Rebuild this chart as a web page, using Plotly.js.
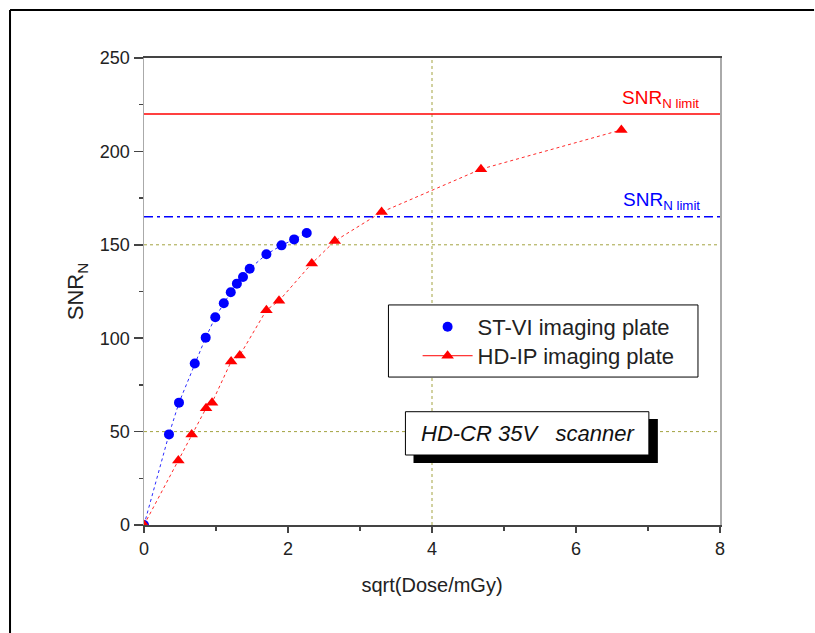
<!DOCTYPE html>
<html>
<head>
<meta charset="utf-8">
<script src="https://cdn.plot.ly/plotly-3.0.1.min.js"></script>
<style>html,body{margin:0;padding:0;background:#fff;overflow:hidden;}#chart{width:815px;height:633px;}</style>
</head>
<body>
<div id="chart"></div>
<script>
// Data
var stviX = [0, 0.347, 0.486, 0.705, 0.857, 0.99, 1.108, 1.205, 1.29, 1.375, 1.468, 1.70, 1.91, 2.085, 2.26];
var stviY = [0, 48.5, 65.5, 86.5, 100.3, 111.2, 118.7, 124.6, 129.2, 132.8, 137.2, 144.9, 149.7, 152.9, 156.3];
var hdipX = [0, 0.477, 0.662, 0.862, 0.945, 1.21, 1.33, 1.70, 1.875, 2.33, 2.65, 3.30, 4.68, 6.63];
var hdipY = [0, 34.5, 48.5, 62.5, 65.5, 87.5, 90.8, 115, 120, 140, 152, 167.5, 190.5, 211.5];
var limitHDIP = 220;
var limitSTVI = 165;
var seriesNames = ["ST-VI imaging plate", "HD-IP imaging plate"];
var xTitle = "sqrt(Dose/mGy)";
var yTitle = "SNR<sub>N</sub>";
var boxLabel = "HD-CR 35V\u00a0\u00a0\u00a0scanner";
var limitLabel = "SNR<sub>N limit</sub>";

var FONT = "Liberation Sans, Arial, sans-serif";

var traces = [
  {x: stviX, y: stviY, mode: "lines+markers", showlegend: false, cliponaxis: true,
   line: {color: "#2a2aff", width: 1, dash: "dot"},
   marker: {symbol: "circle", size: 10, color: "#0000ff"}},
  {x: hdipX, y: hdipY, mode: "lines+markers", showlegend: false, cliponaxis: true,
   line: {color: "#ff2a2a", width: 1, dash: "dot"},
   marker: {symbol: "triangle-up", size: 11, color: "#ff0000"}},
  {x: [null], y: [null], mode: "markers", name: seriesNames[0], legend: "legend",
   marker: {symbol: "circle", size: 10, color: "#0000ff"}},
  {x: [null], y: [null], mode: "lines+markers", name: seriesNames[1], legend: "legend2",
   line: {color: "#ff0000", width: 1},
   marker: {symbol: "triangle-up", size: 11, color: "#ff0000"}}
];

var grid = "#a3a341";
var shapes = [
  // outer frame: left and top edges (right and bottom edges lie outside the picture)
  {type: "line", xref: "paper", yref: "paper", x0: -0.2326, x1: -0.2326, y0: -0.3, y1: 1.1028,
   line: {color: "#000", width: 2}},
  {type: "line", xref: "paper", yref: "paper", x0: -0.2326, x1: 1.1633, y0: 1.1028, y1: 1.1028,
   line: {color: "#000", width: 2}},
  // dotted grid
  {type: "line", xref: "x", yref: "y", x0: 0, x1: 8, y0: 50, y1: 50, layer: "below", line: {color: grid, width: 1, dash: "dot"}},
  {type: "line", xref: "x", yref: "y", x0: 0, x1: 8, y0: 150, y1: 150, layer: "below", line: {color: grid, width: 1, dash: "dot"}},
  {type: "line", xref: "x", yref: "y", x0: 4, x1: 4, y0: 0, y1: 250, layer: "below", line: {color: grid, width: 1, dash: "dot"}},
  // limit lines
  {type: "line", xref: "x", yref: "y", x0: 0, x1: 8, y0: limitHDIP, y1: limitHDIP, line: {color: "#ff0000", width: 1.5}},
  {type: "line", xref: "x", yref: "y", x0: 0, x1: 8, y0: limitSTVI, y1: limitSTVI, line: {color: "#0000ff", width: 1.5, dash: "9px,4px,3px,4px"}},
  // legend box
  {type: "rect", xref: "x", yref: "y", x0: 3.395, x1: 7.694, y0: 79.2, y1: 117.8, layer: "above",
   line: {color: "#000", width: 1}, fillcolor: "#ffffff"},
  // scanner box shadow and box
  {type: "rect", xref: "x", yref: "y", x0: 3.743, x1: 7.137, y0: 33.2, y1: 56.7, layer: "above",
   line: {color: "#000", width: 0}, fillcolor: "#000000"},
  {type: "rect", xref: "x", yref: "y", x0: 3.631, x1: 7.012, y0: 37.47, y1: 60.65, layer: "above",
   line: {color: "#000", width: 1}, fillcolor: "#ffffff"}
];

var annotations = [
  {x: 5.33, y: 49.1, xref: "x", yref: "y", text: "<i>" + boxLabel + "</i>", showarrow: false,
   font: {family: FONT, size: 22, color: "#111"}},
  {x: 6.61, y: 228, xref: "x", yref: "y", xanchor: "left", yanchor: "middle", text: limitLabel, showarrow: false,
   font: {family: FONT, size: 19, color: "#ff0000"}},
  {x: 6.63, y: 173.5, xref: "x", yref: "y", xanchor: "left", yanchor: "middle", text: limitLabel, showarrow: false,
   font: {family: FONT, size: 19, color: "#0000ff"}}
];

var legendBase = {xanchor: "left", yanchor: "top", bgcolor: "rgba(0,0,0,0)",
                  borderwidth: 0, itemwidth: 50, font: {family: FONT, size: 22, color: "#222"}};

var layout = {
  width: 815, height: 633,
  margin: {l: 144, r: 95, t: 58, b: 108},
  paper_bgcolor: "#fff", plot_bgcolor: "#fff",
  font: {family: FONT, size: 18, color: "#222"},
  showlegend: true,
  legend: Object.assign({x: 0.475, y: 0.469}, legendBase),
  legend2: Object.assign({x: 0.475, y: 0.407}, legendBase),
  xaxis: {range: [0, 8], dtick: 2, tick0: 0, showgrid: false, zeroline: false,
          showline: true, linecolor: "#444", linewidth: 2, mirror: true,
          ticks: "outside", ticklen: 6, tickwidth: 1.5, tickcolor: "#444",
          minor: {dtick: 1, ticks: "outside", ticklen: 4, tickwidth: 1.5, tickcolor: "#444", showgrid: false},
          tickfont: {size: 18},
          title: {text: xTitle, font: {size: 20}, standoff: 20}},
  yaxis: {range: [0, 250], dtick: 50, tick0: 0, showgrid: false, zeroline: false,
          showline: true, linecolor: "#aaa", linewidth: 1.5, mirror: true,
          ticks: "outside", ticklen: 9, tickwidth: 1.5, tickcolor: "#444",
          minor: {dtick: 25, ticks: "outside", ticklen: 4, tickwidth: 1.5, tickcolor: "#444", showgrid: false},
          tickfont: {size: 18},
          title: {text: yTitle, font: {size: 22}, standoff: 10}},
  shapes: shapes,
  annotations: annotations
};

Plotly.newPlot("chart", traces, layout, {displayModeBar: false, staticPlot: true});
</script>
</body>
</html>
